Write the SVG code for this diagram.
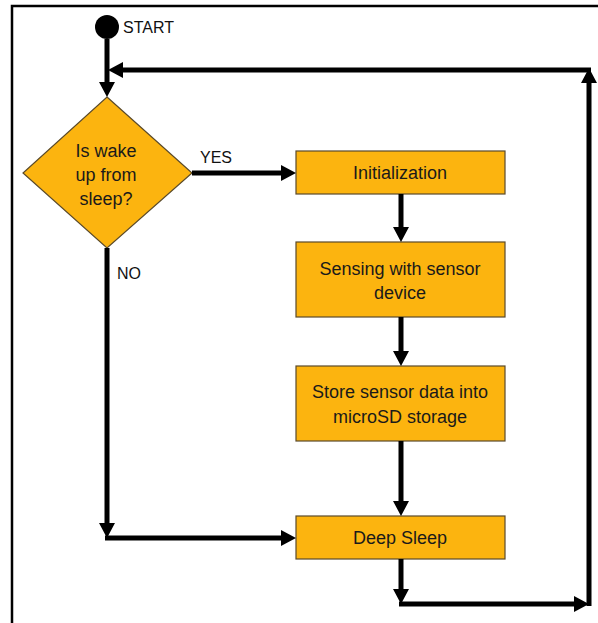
<svg xmlns="http://www.w3.org/2000/svg" width="598" height="623" viewBox="0 0 598 623">
<defs>
<style>
.box{fill:#FCB40F;stroke:#5a4a2a;stroke-width:1.2}
.t{font-family:"Liberation Sans",Arial,sans-serif;font-size:18px;fill:#1a1a1a;text-anchor:middle}
.lbl{font-family:"Liberation Sans",Arial,sans-serif;font-size:16px;fill:#111}
.c{fill:none;stroke:#000;stroke-width:5}
</style>
<marker id="ah" markerUnits="userSpaceOnUse" markerWidth="16" markerHeight="16" refX="3" refY="8" orient="auto">
<path d="M0,0 L15,8 L0,16 z" fill="#000"/>
</marker>
</defs>
<rect width="598" height="623" fill="#fff"/>
<g id="frame" fill="none" stroke="#000" stroke-width="2.5">
<path d="M12,623 V6 H598"/>
</g>
<g id="start">
<circle cx="107" cy="27" r="12" fill="#000"/>
<text class="lbl" x="123" y="33">START</text>
</g>
<g id="decision">
<polygon class="box" points="107,97 192,173 107,248 23,173"/>
<text class="t" x="106" y="157">Is wake</text>
<text class="t" x="106" y="181">up from</text>
<text class="t" x="106" y="205">sleep?</text>
</g>
<g id="init">
<rect class="box" x="296" y="151" width="209" height="43"/>
<text class="t" x="400" y="179">Initialization</text>
</g>
<g id="sensing">
<rect class="box" x="296" y="242" width="209" height="75"/>
<text class="t" x="400" y="275">Sensing with sensor</text>
<text class="t" x="400" y="299">device</text>
</g>
<g id="store">
<rect class="box" x="296" y="366" width="209" height="75"/>
<text class="t" x="400" y="398">Store sensor data into</text>
<text class="t" x="400" y="423">microSD storage</text>
</g>
<g id="deepsleep">
<rect class="box" x="296" y="516" width="209" height="43"/>
<text class="t" x="400" y="544">Deep Sleep</text>
</g>
<g id="connectors">
<path class="c" d="M107,39 V85" marker-end="url(#ah)"/>
<path class="c" d="M192,173 H284" marker-end="url(#ah)"/>
<path class="c" d="M401,194 V230" marker-end="url(#ah)"/>
<path class="c" d="M401,317 V354" marker-end="url(#ah)"/>
<path class="c" d="M401,441 V504" marker-end="url(#ah)"/>
<path class="c" d="M401,559 V592" marker-end="url(#ah)"/>
<path class="c" d="M399,604 H577" marker-end="url(#ah)"/>
<path class="c" d="M589,606 V80" marker-end="url(#ah)"/>
<path class="c" d="M591,70 H120" marker-end="url(#ah)"/>
<path class="c" d="M107,248 V526" marker-end="url(#ah)"/>
<path class="c" d="M105,538 H284" marker-end="url(#ah)"/>
<text class="lbl" x="200" y="163">YES</text>
<text class="lbl" x="117" y="279">NO</text>
</g>
</svg>
